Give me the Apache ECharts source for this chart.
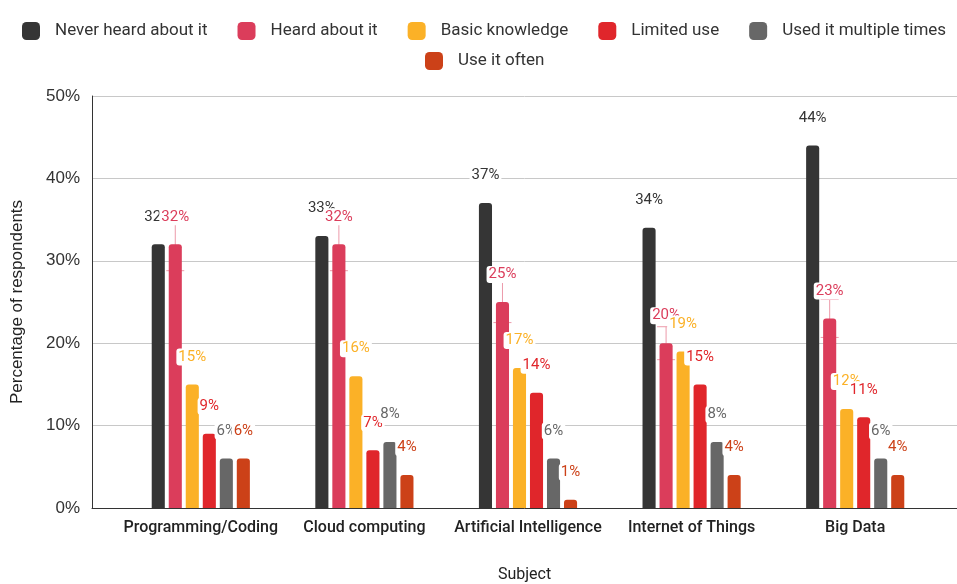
<!DOCTYPE html>
<html>
<head>
<meta charset="utf-8">
<script src="https://cdn.jsdelivr.net/npm/echarts@6/dist/echarts.min.js"></script>
<style>
  html, body { margin: 0; padding: 0; background: #fff; }
  #chart { width: 957px; height: 584px; }
</style>
</head>
<body>
<div id="chart"></div>
<script>
// Survey: familiarity with technology subjects (percentage of respondents)
const categories = ['Programming/Coding', 'Cloud computing', 'Artificial Intelligence', 'Internet of Things', 'Big Data'];
const seriesNames = ['Never heard about it', 'Heard about it', 'Basic knowledge', 'Limited use', 'Used it multiple times', 'Use it often'];
const neverHeard     = [32, 33, 37, 34, 44];
const heardAbout     = [32, 32, 25, 20, 23];
const basicKnowledge = [15, 16, 17, 19, 12];
const limitedUse     = [9, 7, 14, 15, 11];
const usedMultiple   = [6, 8, 6, 8, 6];
const useOften       = [6, 4, 1, 4, 4];
const yTickValues    = [0, 10, 20, 30, 40, 50];
// error bars on "Heard about it": +/- 10 % of the value
const errorFraction = 0.1;

const seriesValues = [neverHeard, heardAbout, basicKnowledge, limitedUse, usedMultiple, useOften];
const colors = ['#353535', '#db3d5b', '#fbb127', '#e0262b', '#676767', '#cc4118'];

const CAT_GAP = 0.4;
const BAR_GAP = 0.3;

const chart = echarts.init(document.getElementById('chart'), null, { renderer: 'canvas' });

const barSeries = seriesNames.map((name, k) => ({
  name: name,
  type: 'bar',
  xAxisIndex: 1,
  yAxisIndex: 1,
  data: seriesValues[k],
  barGap: (BAR_GAP * 100) + '%',
  barCategoryGap: (CAT_GAP * 100) + '%',
  itemStyle: { color: colors[k], borderRadius: [3, 3, 0, 0] },
  label: {
    show: true,
    position: 'top',
    distance: 19,
    formatter: '{c}%',
    color: colors[k],
    fontFamily: 'Roboto',
    fontSize: 15,
    backgroundColor: '#fff',
    borderRadius: 3,
    padding: [1, 2]
  }
}));

const errorData = heardAbout.map((v, i) => [i, v, v * (1 - errorFraction), v * (1 + errorFraction)]);

const errorSeries = {
  name: 'Heard about it error',
  type: 'custom',
  xAxisIndex: 1,
  yAxisIndex: 1,
  data: errorData,
  encode: { x: 0, y: 1 },
  renderItem: function (params, api) {
    const idx = api.value(0);
    const val = api.value(1);
    const lo = api.value(2);
    const hi = api.value(3);
    const band = api.size([1, 0])[0];
    const n = seriesNames.length;
    const usable = band * (1 - CAT_GAP);
    const bw = usable / (n + (n - 1) * BAR_GAP);
    const total = n * bw + (n - 1) * BAR_GAP * bw;
    // second bar in the group
    const x = api.coord([idx, val])[0] - total / 2 + bw * (1 + BAR_GAP) + bw / 2;
    const yTop = api.coord([idx, hi])[1];
    const yBot = api.coord([idx, lo])[1];
    const half = 9;
    const style = { stroke: '#ec9aaa', lineWidth: 1 };
    return {
      type: 'group',
      children: [
        { type: 'line', shape: { x1: x, y1: yTop, x2: x, y2: yBot }, style: style },
        { type: 'line', shape: { x1: x - half, y1: yTop, x2: x + half, y2: yTop }, style: style },
        { type: 'line', shape: { x1: x - half, y1: yBot, x2: x + half, y2: yBot }, style: style }
      ]
    };
  },
  z: 2
};

const legendText = { fontFamily: 'Roboto', fontSize: 17, color: '#333', padding: [0, 0, 0, 10] };

const option = {
  animation: false,
  backgroundColor: '#fff',
  color: colors,
  legend: [
    {
      data: seriesNames.slice(0, 5),
      top: 17,
      left: 17,
      itemWidth: 18,
      itemHeight: 18,
      itemGap: 30,
      icon: 'roundRect',
      textStyle: legendText
    },
    {
      data: seriesNames.slice(5),
      top: 47,
      left: 420,
      itemWidth: 18,
      itemHeight: 18,
      itemGap: 30,
      icon: 'roundRect',
      textStyle: legendText
    }
  ],
  grid: [
    { left: 92, right: 0, top: 96, bottom: 76, outerBoundsMode: 'none', containLabel: false },
    { left: 119, right: 20, top: 96, bottom: 76, outerBoundsMode: 'none', containLabel: false }
  ],
  xAxis: [
    {
      gridIndex: 0,
      type: 'value',
      min: 0,
      max: 1,
      axisLine: { show: true, lineStyle: { color: '#333', width: 1 } },
      axisTick: { show: false },
      axisLabel: { show: false },
      splitLine: { show: false },
      name: 'Subject',
      nameLocation: 'middle',
      nameGap: 59,
      nameTextStyle: { fontFamily: 'Roboto', fontSize: 16, color: '#222' }
    },
    {
      gridIndex: 1,
      type: 'category',
      data: categories,
      axisLine: { show: false },
      axisTick: { show: false },
      axisLabel: { interval: 0, fontFamily: 'Roboto', fontSize: 16, fontWeight: 500, color: '#222', margin: 12 }
    }
  ],
  yAxis: [
    {
      gridIndex: 0,
      type: 'value',
      min: yTickValues[0],
      max: yTickValues[yTickValues.length - 1],
      interval: yTickValues[1] - yTickValues[0],
      axisLine: { show: true, lineStyle: { color: '#333', width: 1 } },
      axisTick: { show: false },
      axisLabel: { formatter: '{value}%', fontFamily: 'Liberation Sans', fontSize: 17, color: '#333', margin: 12 },
      splitLine: { show: true, lineStyle: { color: '#c8c8c8', width: 1 } },
      name: 'Percentage of respondents',
      nameLocation: 'middle',
      nameGap: 66,
      nameTextStyle: { fontFamily: 'Liberation Sans', fontSize: 17, color: '#222' }
    },
    {
      gridIndex: 1,
      type: 'value',
      min: yTickValues[0],
      max: yTickValues[yTickValues.length - 1],
      show: false,
      splitLine: { show: false }
    }
  ],
  series: barSeries.concat([errorSeries])
};

chart.setOption(option);
</script>
</body>
</html>
